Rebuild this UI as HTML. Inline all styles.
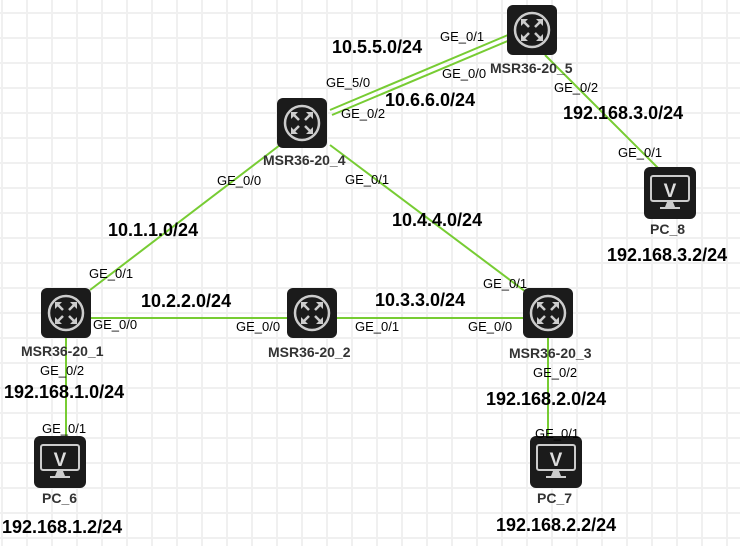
<!DOCTYPE html>
<html><head><meta charset="utf-8"><style>
body{margin:0;width:740px;height:546px;overflow:hidden;font-family:"Liberation Sans",Arial,sans-serif;
background-color:#fff;
background-image:linear-gradient(#f0f0f0 2px,transparent 2px),linear-gradient(90deg,#f0f0f0 2px,transparent 2px);
background-size:25px 25px;background-position:0 12px,1px 0;}
.t{position:absolute;font-size:13px;color:#000;white-space:nowrap}
.b{position:absolute;font-size:18px;font-weight:bold;color:#000;white-space:nowrap}
.n{position:absolute;font-size:14px;font-weight:bold;color:#333;white-space:nowrap}
svg{position:absolute;left:0;top:0}
</style></head><body>
<svg width="740" height="546">
<defs>
<g id="r"><rect x="-25" y="-25" width="50" height="50" rx="6" fill="#1b1b1b"/>
<circle r="17" fill="none" stroke="#ccc" stroke-width="2.5"/>
<g stroke="#ccc" stroke-width="2.5" fill="none"><path d="M-9 -9 L-3 -3 M9 -9 L3 -3 M-9 9 L-3 3 M9 9 L3 3"/></g>
<g fill="#ccc"><path d="M-11 -11 h7 l-7 7z M11 -11 h-7 l7 7z M-11 11 h7 l-7 -7z M11 11 h-7 l7 -7z"/></g></g>
<g id="p"><rect x="-26" y="-26" width="52" height="52" rx="6" fill="#1b1b1b"/>
<rect x="-19" y="-17" width="38" height="25" rx="2" fill="none" stroke="#ccc" stroke-width="2"/>
<text x="0" y="4" font-size="19" font-weight="bold" fill="#ddd" text-anchor="middle" font-family="Liberation Sans">V</text>
<path d="M-3 9 h6 l2 5 h-10z M-10 14 h20 v2 h-20z" fill="#ccc"/></g>
</defs>
<g stroke="#77cc33" stroke-width="2">
<line x1="330" y1="110" x2="508" y2="35"/><line x1="332" y1="115" x2="510" y2="40"/>
<line x1="545" y1="55" x2="665" y2="175"/>
<line x1="280" y1="145" x2="90" y2="290"/>
<line x1="330" y1="145" x2="530" y2="295"/>
<line x1="90" y1="318" x2="290" y2="318"/>
<line x1="335" y1="318" x2="525" y2="318"/>
<line x1="66" y1="335" x2="66" y2="440"/>
<line x1="548" y1="335" x2="548" y2="440"/>
</g>
<use href="#r" x="302" y="123"/><use href="#r" x="532" y="30"/><use href="#r" x="66" y="313"/>
<use href="#r" x="312" y="313"/><use href="#r" x="548" y="313"/>
<use href="#p" x="670" y="193"/><use href="#p" x="60" y="462"/><use href="#p" x="556" y="462"/>
</svg>
<div class="n" style="left:263px;top:152px">MSR36-20_4</div>
<div class="n" style="left:490px;top:60px">MSR36-20_5</div>
<div class="n" style="left:21px;top:343px">MSR36-20_1</div>
<div class="n" style="left:268px;top:344px">MSR36-20_2</div>
<div class="n" style="left:509px;top:345px">MSR36-20_3</div>
<div class="n" style="left:650px;top:221px">PC_8</div>
<div class="n" style="left:42px;top:490px">PC_6</div>
<div class="n" style="left:537px;top:490px">PC_7</div>
<div class="b" style="left:332px;top:37px">10.5.5.0/24</div>
<div class="b" style="left:385px;top:90px">10.6.6.0/24</div>
<div class="b" style="left:563px;top:103px">192.168.3.0/24</div>
<div class="b" style="left:108px;top:220px">10.1.1.0/24</div>
<div class="b" style="left:392px;top:210px">10.4.4.0/24</div>
<div class="b" style="left:607px;top:245px">192.168.3.2/24</div>
<div class="b" style="left:141px;top:291px">10.2.2.0/24</div>
<div class="b" style="left:375px;top:290px">10.3.3.0/24</div>
<div class="b" style="left:4px;top:382px">192.168.1.0/24</div>
<div class="b" style="left:486px;top:389px">192.168.2.0/24</div>
<div class="b" style="left:2px;top:517px">192.168.1.2/24</div>
<div class="b" style="left:496px;top:515px">192.168.2.2/24</div>
<div class="t" style="left:440px;top:29px">GE_0/1</div>
<div class="t" style="left:326px;top:75px">GE_5/0</div>
<div class="t" style="left:442px;top:66px">GE_0/0</div>
<div class="t" style="left:341px;top:106px">GE_0/2</div>
<div class="t" style="left:554px;top:80px">GE_0/2</div>
<div class="t" style="left:618px;top:145px">GE_0/1</div>
<div class="t" style="left:217px;top:173px">GE_0/0</div>
<div class="t" style="left:345px;top:172px">GE_0/1</div>
<div class="t" style="left:89px;top:266px">GE_0/1</div>
<div class="t" style="left:483px;top:276px">GE_0/1</div>
<div class="t" style="left:93px;top:317px">GE_0/0</div>
<div class="t" style="left:236px;top:319px">GE_0/0</div>
<div class="t" style="left:355px;top:319px">GE_0/1</div>
<div class="t" style="left:468px;top:319px">GE_0/0</div>
<div class="t" style="left:40px;top:363px">GE_0/2</div>
<div class="t" style="left:533px;top:365px">GE_0/2</div>
<div class="t" style="left:42px;top:421px">GE_0/1</div>
<div class="t" style="left:535px;top:426px">GE_0/1</div>
</body></html>
